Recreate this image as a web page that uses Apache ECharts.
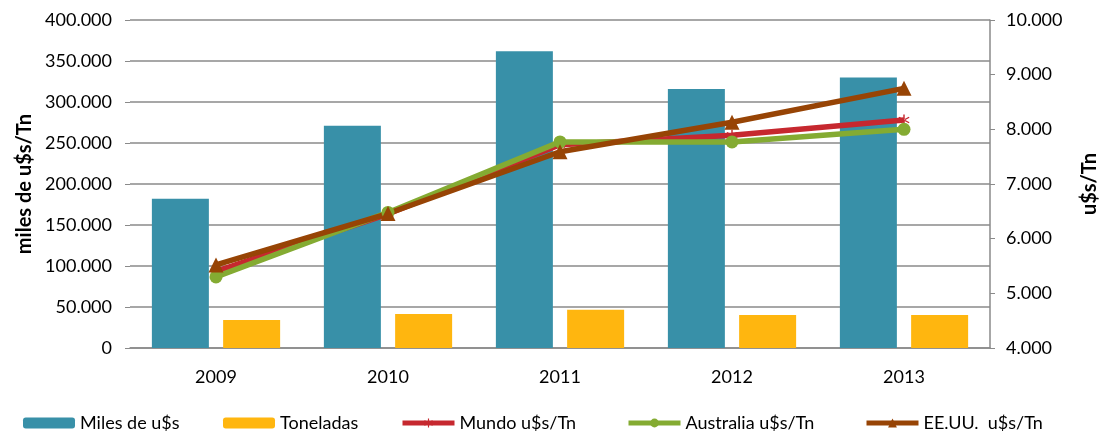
<!DOCTYPE html>
<html>
<head>
<meta charset="utf-8">
<script src="https://cdn.jsdelivr.net/npm/echarts@6/dist/echarts.min.js"></script>
<style>
  html, body { margin: 0; padding: 0; background: #fff; }
  #chart { width: 1104px; height: 433px; }
</style>
</head>
<body>
<div id="chart"></div>
<script>
// data
var years = ['2009', '2010', '2011', '2012', '2013'];
var milesUSD = [182000, 271000, 362000, 316000, 330000];
var toneladas = [34000, 41500, 46500, 40200, 40200];
var mundo = [5400, 6450, 7720, 7890, 8170];
var australia = [5300, 6480, 7770, 7770, 8000];
var eeuu = [5520, 6460, 7590, 8130, 8750];
var leyendas = ['Miles de u$s', 'Toneladas', 'Mundo u$s/Tn', 'Australia u$s/Tn', 'EE.UU.  u$s/Tn'];

var gris = '#8a8a8a';
var fuente = 'Lato, "Open Sans", sans-serif';
var tam = 18;

function miles(v) {
    return String(v).replace(/\B(?=(\d{3})+(?!\d))/g, '.');
}

// asterisk marker for "Mundo"
var asterisco = 'path://M-0.6,-5L0.6,-5L0.6,5L-0.6,5Z' +
    'M-4.6,-2.0L-4.0,-3.0L4.6,2.0L4.0,3.0Z' +
    'M-4.6,2.0L-4.0,3.0L4.6,-2.0L4.0,-3.0Z';

// one legend per entry so each sits where it does in the original
var legendLeft = [23, 223, 400, 626, 864];
var legend = leyendas.map(function (n, i) {
    var item = { name: n };
    if (i > 1) item.lineStyle = { width: 5 };
    return {
        left: legendLeft[i],
        top: 414,
        padding: 0,
        itemWidth: 52,
        itemHeight: 11,
        textStyle: { fontSize: tam, color: '#000' },
        data: [item]
    };
});

var chart = echarts.init(document.getElementById('chart'));

chart.setOption({
    animation: false,
    textStyle: { fontFamily: fuente },
    grid: { left: 130, right: 114, top: 20, bottom: 85, outerBoundsMode: 'none', containLabel: false },
    legend: legend,
    xAxis: {
        type: 'category',
        data: years,
        axisLine: { lineStyle: { color: gris, width: 1.5 } },
        axisTick: { show: false },
        axisLabel: { fontSize: tam, color: '#000', margin: 20 }
    },
    yAxis: [{
        type: 'value',
        min: 0,
        max: 400000,
        interval: 50000,
        name: 'miles de u$s/Tn',
        nameLocation: 'middle',
        nameRotate: 90,
        nameGap: 95,
        nameTextStyle: { fontSize: 20, fontWeight: 'bold', color: '#000' },
        axisLine: { show: false },
        axisTick: { show: true, length: 5, lineStyle: { color: gris } },
        axisLabel: { fontSize: tam, color: '#000', margin: 18, formatter: miles },
        splitLine: { lineStyle: { color: gris, width: 1.5 } }
    }, {
        type: 'value',
        min: 4000,
        max: 10000,
        interval: 1000,
        position: 'right',
        name: 'u$s/Tn',
        nameLocation: 'middle',
        nameRotate: 90,
        nameGap: 90,
        nameTextStyle: { fontSize: 20, fontWeight: 'bold', color: '#000' },
        axisLine: { show: true, lineStyle: { color: gris, width: 1.5 } },
        axisTick: { show: true, length: 5, lineStyle: { color: gris } },
        axisLabel: { fontSize: tam, color: '#000', margin: 16, formatter: miles },
        splitLine: { show: false }
    }],
    series: [{
        name: leyendas[0],
        type: 'bar',
        data: milesUSD,
        barWidth: 57,
        barGap: '25%',
        itemStyle: { color: '#3890a8' }
    }, {
        name: leyendas[1],
        type: 'bar',
        data: toneladas,
        barWidth: 57,
        itemStyle: { color: '#ffb60f' }
    }, {
        name: leyendas[2],
        type: 'line',
        yAxisIndex: 1,
        data: mundo,
        symbol: asterisco,
        symbolSize: 11,
        lineStyle: { color: '#c6282f', width: 5.5 },
        itemStyle: { color: '#c6282f' }
    }, {
        name: leyendas[3],
        type: 'line',
        yAxisIndex: 1,
        data: australia,
        symbol: 'circle',
        symbolSize: 13,
        lineStyle: { color: '#84ab32', width: 5.5 },
        itemStyle: { color: '#84ab32' }
    }, {
        name: leyendas[4],
        type: 'line',
        yAxisIndex: 1,
        data: eeuu,
        symbol: 'triangle',
        symbolSize: 15,
        lineStyle: { color: '#974405', width: 5.5 },
        itemStyle: { color: '#974405' }
    }]
});
</script>
</body>
</html>
